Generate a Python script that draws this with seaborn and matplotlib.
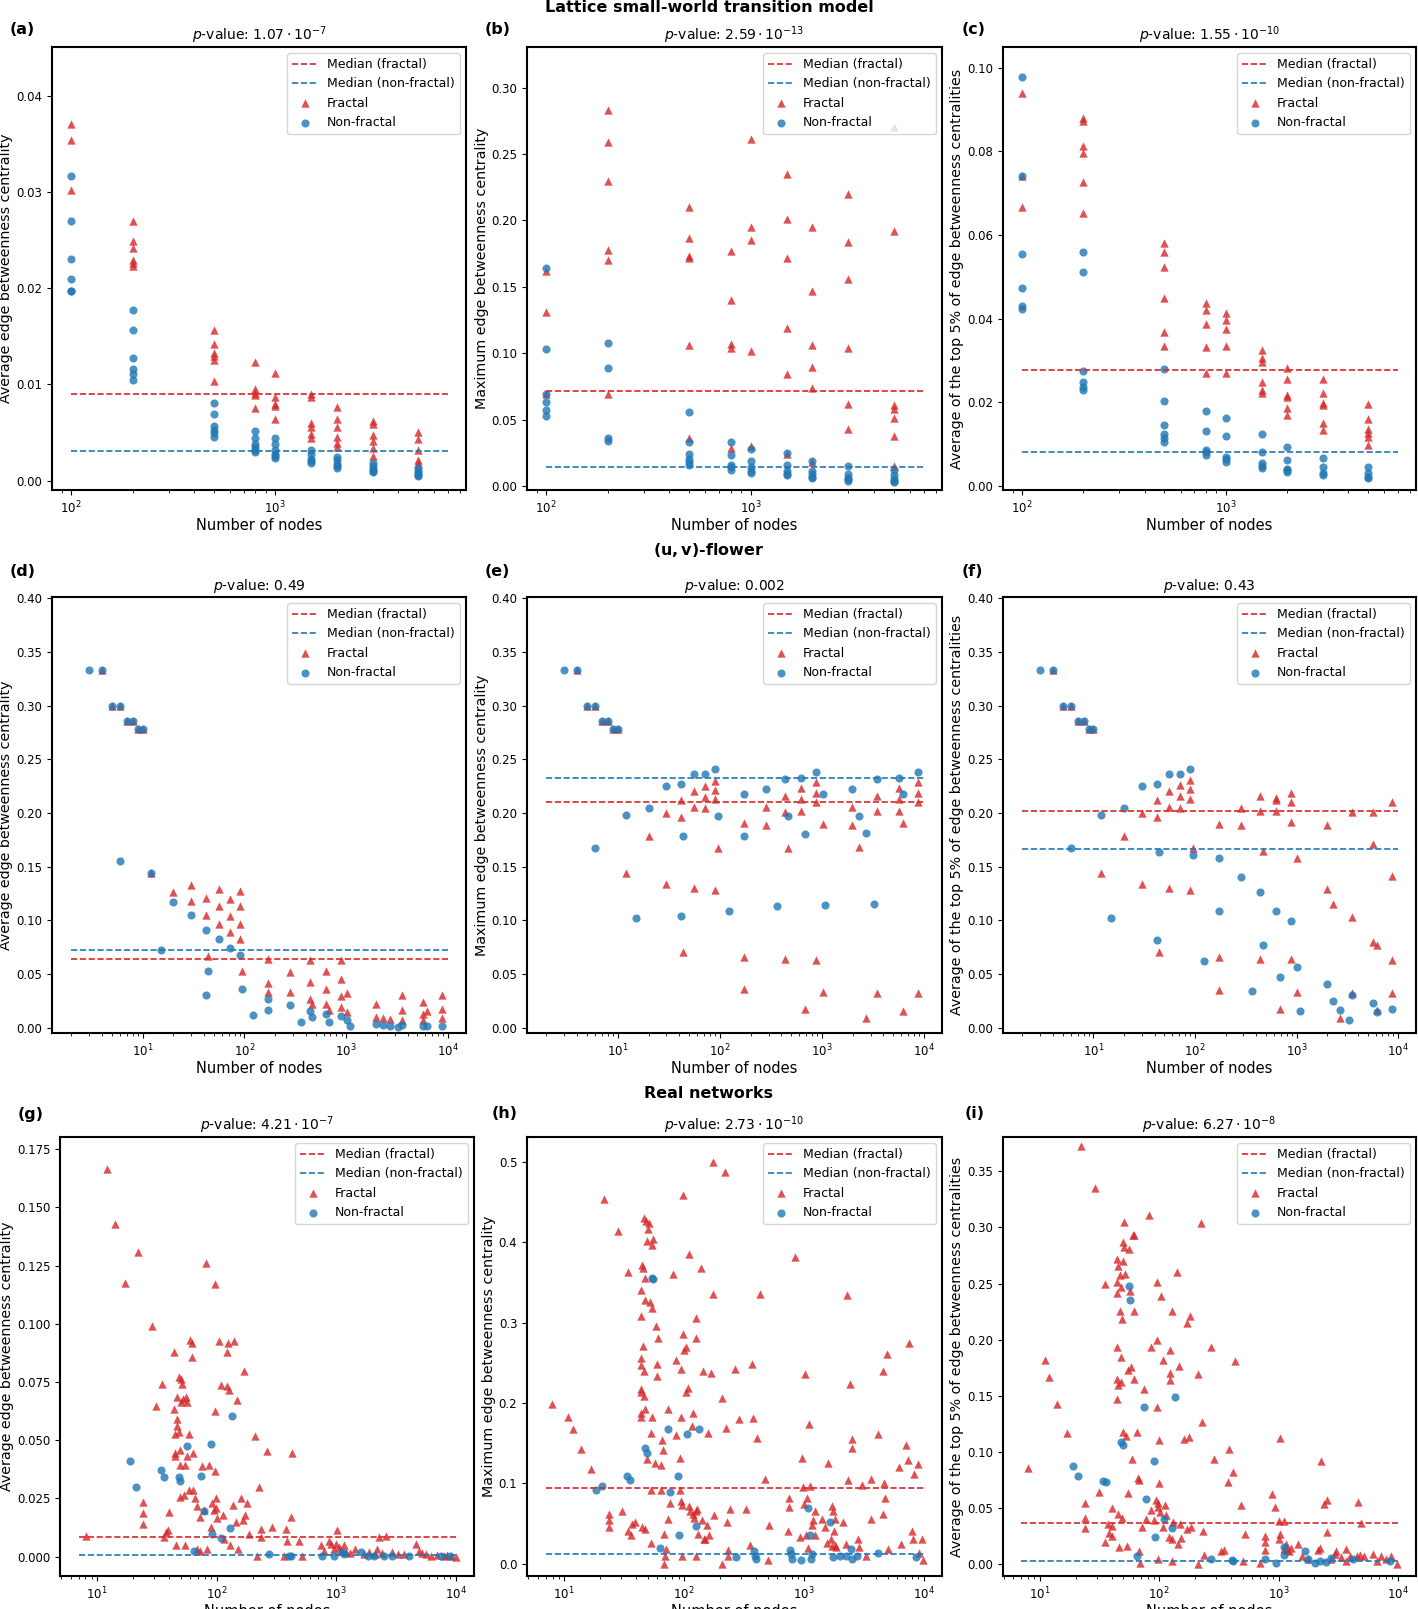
import numpy as np
import pandas as pd
import seaborn as sns
import matplotlib.pyplot as plt

RED = '#d62728'
BLUE = '#1f77b4'
W, H = 1418, 1609

# ---------------- Lattice small-world transition model ----------------
lattice_nodes = [100, 200, 500, 800, 1000, 1500, 2000, 3000, 5000]

a_frac = [[0.0370, 0.0354, 0.0302],
          [0.0270, 0.0249, 0.0242, 0.0229, 0.0226, 0.0223],
          [0.0157, 0.0142, 0.0133, 0.0129, 0.0125, 0.0104],
          [0.0123, 0.0095, 0.0091, 0.0089, 0.0075],
          [0.0112, 0.0087, 0.0080, 0.0078, 0.0064],
          [0.0090, 0.0087, 0.0060, 0.0056, 0.0048, 0.0044],
          [0.0077, 0.0064, 0.0056, 0.0045, 0.0039, 0.0035],
          [0.0062, 0.0059, 0.0047, 0.0041, 0.0034, 0.0026],
          [0.0051, 0.0043, 0.0032, 0.0021, 0.0018]]
a_nonfrac = [[0.0317, 0.0270, 0.0230, 0.0210, 0.0197, 0.0197],
             [0.0177, 0.0157, 0.0127, 0.0116, 0.0111, 0.0105],
             [0.0081, 0.0069, 0.0057, 0.0053, 0.0049, 0.0045],
             [0.0052, 0.0044, 0.0038, 0.0035, 0.0032, 0.0030],
             [0.0044, 0.0038, 0.0032, 0.0028, 0.0026, 0.0024],
             [0.0032, 0.0028, 0.0023, 0.0020, 0.0018],
             [0.0025, 0.0021, 0.0017, 0.0015, 0.0013],
             [0.0018, 0.0015, 0.0012, 0.0010, 0.0009],
             [0.0013, 0.0010, 0.0008, 0.0006, 0.0005]]

b_frac = [[0.162, 0.131, 0.069],
          [0.283, 0.259, 0.230, 0.178, 0.170, 0.069],
          [0.210, 0.187, 0.173, 0.172, 0.106, 0.036],
          [0.177, 0.140, 0.107, 0.104, 0.029],
          [0.261, 0.195, 0.185, 0.102, 0.030],
          [0.235, 0.201, 0.172, 0.119, 0.084, 0.024],
          [0.195, 0.147, 0.106, 0.090, 0.074, 0.018],
          [0.220, 0.184, 0.156, 0.104, 0.062, 0.043],
          [0.270, 0.192, 0.061, 0.058, 0.051, 0.038, 0.015]]
b_nonfrac = [[0.164, 0.103, 0.069, 0.063, 0.057, 0.053],
             [0.108, 0.089, 0.036, 0.034],
             [0.056, 0.033, 0.024, 0.020, 0.018, 0.016],
             [0.033, 0.023, 0.016, 0.014, 0.012],
             [0.028, 0.019, 0.014, 0.011, 0.010],
             [0.025, 0.016, 0.011, 0.009, 0.008],
             [0.019, 0.011, 0.009, 0.007, 0.006],
             [0.015, 0.009, 0.006, 0.005, 0.004],
             [0.012, 0.008, 0.005, 0.004, 0.003]]

c_frac = [[0.0941, 0.0742, 0.0668],
          [0.0879, 0.0873, 0.0813, 0.0797, 0.0727, 0.0652],
          [0.0582, 0.0559, 0.0524, 0.0449, 0.0367, 0.0335],
          [0.0437, 0.0421, 0.0387, 0.0333, 0.0269],
          [0.0413, 0.0397, 0.0375, 0.0335, 0.0271],
          [0.0324, 0.0305, 0.0297, 0.0249, 0.0229, 0.0223],
          [0.0281, 0.0255, 0.0218, 0.0212, 0.0186, 0.0170],
          [0.0256, 0.0223, 0.0198, 0.0194, 0.0150, 0.0134],
          [0.0195, 0.0159, 0.0135, 0.0126, 0.0116, 0.0098]]
c_nonfrac = [[0.0979, 0.0742, 0.0555, 0.0473, 0.0431, 0.0423],
             [0.0560, 0.0512, 0.0274, 0.0249, 0.0237, 0.0229],
             [0.0279, 0.0204, 0.0145, 0.0124, 0.0114, 0.0106],
             [0.0180, 0.0131, 0.0086, 0.0080, 0.0074],
             [0.0163, 0.0120, 0.0070, 0.0064, 0.0058],
             [0.0124, 0.0082, 0.0054, 0.0048, 0.0042],
             [0.0092, 0.0061, 0.0040, 0.0037, 0.0033],
             [0.0067, 0.0044, 0.0030, 0.0026],
             [0.0046, 0.0030, 0.0021, 0.0018]]

# ---------------- (u, v)-flower ----------------
d_frac = [(4, 0.333), (5, 0.300), (6, 0.300), (7, 0.286), (8, 0.286), (9, 0.278), (10, 0.278),
          (12, 0.144), (20, 0.126), (30, 0.133), (30, 0.118), (42, 0.121), (42, 0.105), (44, 0.067),
          (56, 0.129), (56, 0.113), (56, 0.097), (72, 0.120), (72, 0.104), (72, 0.089),
          (90, 0.127), (90, 0.113), (90, 0.097), (90, 0.083), (95, 0.053),
          (172, 0.064), (172, 0.042), (172, 0.033), (282, 0.052), (282, 0.033),
          (436, 0.063), (436, 0.043), (436, 0.027), (466, 0.022), (630, 0.053), (630, 0.036),
          (630, 0.022), (680, 0.017), (880, 0.063), (880, 0.045), (880, 0.030), (880, 0.019),
          (1016, 0.032), (1016, 0.015), (1980, 0.022), (1980, 0.010), (2300, 0.009), (2700, 0.008),
          (3500, 0.031), (3500, 0.017), (3500, 0.007), (5700, 0.024), (5700, 0.013), (5700, 0.007),
          (6200, 0.016), (8800, 0.031), (8800, 0.018), (8800, 0.009)]
d_nonfrac = [(3, 0.333), (4, 0.333), (5, 0.300), (6, 0.300), (7, 0.286), (8, 0.286), (9, 0.278),
             (10, 0.278), (6, 0.155), (12, 0.144), (15, 0.072), (20, 0.117), (30, 0.105),
             (42, 0.091), (42, 0.031), (44, 0.053), (56, 0.083), (72, 0.074), (90, 0.068),
             (95, 0.036), (122, 0.012), (172, 0.027), (172, 0.017), (282, 0.021), (362, 0.005),
             (436, 0.016), (466, 0.010), (630, 0.013), (680, 0.005), (880, 0.011), (1016, 0.007),
             (1080, 0.002), (1980, 0.004), (2300, 0.003), (2700, 0.002), (3260, 0.001),
             (3500, 0.003), (5700, 0.002), (6200, 0.002), (8800, 0.002)]

e_frac = [(4, 0.333), (5, 0.300), (6, 0.300), (7, 0.286), (8, 0.286), (9, 0.278), (10, 0.278),
          (12, 0.144), (20, 0.179), (30, 0.200), (30, 0.134), (42, 0.212), (42, 0.196), (44, 0.071),
          (56, 0.220), (56, 0.206), (56, 0.130), (72, 0.225), (72, 0.215), (72, 0.205),
          (90, 0.230), (90, 0.221), (90, 0.213), (90, 0.128), (95, 0.167),
          (172, 0.191), (172, 0.066), (172, 0.036), (282, 0.206), (282, 0.189),
          (436, 0.216), (436, 0.201), (436, 0.064), (466, 0.167), (630, 0.223), (630, 0.213),
          (630, 0.202), (680, 0.018), (880, 0.229), (880, 0.219), (880, 0.210), (880, 0.063),
          (1016, 0.190), (1016, 0.033), (1980, 0.206), (1980, 0.189), (2300, 0.168), (2700, 0.009),
          (3500, 0.216), (3500, 0.202), (3500, 0.032), (5700, 0.223), (5700, 0.213), (5700, 0.202),
          (6200, 0.191), (6200, 0.016), (8800, 0.229), (8800, 0.219), (8800, 0.210), (8800, 0.032)]
e_nonfrac = [(3, 0.333), (4, 0.333), (5, 0.300), (6, 0.300), (7, 0.286), (8, 0.286), (9, 0.278),
             (10, 0.278), (6, 0.167), (12, 0.198), (15, 0.102), (20, 0.205), (30, 0.225),
             (42, 0.227), (44, 0.179), (42, 0.104), (56, 0.236), (72, 0.236), (90, 0.241),
             (95, 0.197), (122, 0.109), (172, 0.218), (172, 0.179), (282, 0.222), (362, 0.113),
             (436, 0.232), (466, 0.197), (630, 0.233), (680, 0.180), (880, 0.238), (1016, 0.218),
             (1080, 0.114), (1980, 0.222), (2300, 0.197), (2700, 0.181), (3260, 0.115),
             (3500, 0.232), (5700, 0.233), (6200, 0.218), (8800, 0.238)]

f_frac = [(4, 0.333), (5, 0.300), (6, 0.300), (7, 0.286), (8, 0.286), (9, 0.278), (10, 0.278),
          (12, 0.144), (20, 0.179), (30, 0.200), (30, 0.134), (42, 0.212), (42, 0.196), (44, 0.071),
          (56, 0.220), (56, 0.206), (56, 0.130), (72, 0.226), (72, 0.216), (72, 0.205),
          (90, 0.231), (90, 0.222), (90, 0.213), (90, 0.128), (95, 0.167),
          (172, 0.190), (172, 0.066), (172, 0.035), (282, 0.205), (282, 0.189),
          (436, 0.216), (436, 0.202), (436, 0.064), (466, 0.165), (630, 0.214), (630, 0.212),
          (630, 0.202), (680, 0.018), (880, 0.219), (880, 0.210), (880, 0.192), (880, 0.064),
          (1016, 0.158), (1016, 0.033), (1980, 0.189), (1980, 0.129), (2300, 0.115), (2700, 0.009),
          (3500, 0.201), (3500, 0.103), (3500, 0.032), (5700, 0.201), (5700, 0.171), (5700, 0.080),
          (6200, 0.077), (6200, 0.017), (8800, 0.210), (8800, 0.141), (8800, 0.063), (8800, 0.032)]
f_nonfrac = [(3, 0.333), (4, 0.333), (5, 0.300), (6, 0.300), (7, 0.286), (8, 0.286), (9, 0.278),
             (10, 0.278), (6, 0.167), (12, 0.198), (15, 0.102), (20, 0.205), (30, 0.225),
             (42, 0.227), (44, 0.164), (42, 0.082), (56, 0.236), (72, 0.236), (90, 0.241),
             (95, 0.161), (122, 0.062), (172, 0.158), (172, 0.109), (282, 0.140), (362, 0.034),
             (436, 0.126), (466, 0.077), (630, 0.109), (680, 0.047), (880, 0.099), (1016, 0.057),
             (1080, 0.016), (1980, 0.041), (2300, 0.025), (2700, 0.017), (3260, 0.007),
             (3500, 0.031), (5700, 0.023), (6200, 0.015), (8800, 0.018)]

# ---------------- Real networks ----------------
g_frac = [(8.1, 0.0088), (12, 0.1666), (14, 0.1427), (17, 0.1175), (22, 0.131), (24, 0.0233),
          (24, 0.0188), (24, 0.0142), (29, 0.0989), (31, 0.0646), (35, 0.0743), (36, 0.0084),
          (38, 0.0106), (39, 0.0113), (40, 0.0191), (44, 0.088), (44, 0.0634), (45, 0.0525),
          (45, 0.0446), (45, 0.0431), (46, 0.0048), (47, 0.0685), (47, 0.059), (47, 0.0562),
          (48, 0.077), (48, 0.0537), (49, 0.0456), (49, 0.0395), (49, 0.0258), (50, 0.0764),
          (50, 0.0663), (51, 0.0743), (52, 0.0678), (53, 0.0265), (54, 0.0048), (54, 0.0395),
          (55, 0.0685), (56, 0.0663), (57, 0.0431), (59, 0.0525), (59, 0.0287), (60, 0.0931),
          (62, 0.0916), (62, 0.0858), (64, 0.0446), (64, 0.0287), (66, 0.025), (68, 0.0219),
          (69, 0.0033), (72, 0.0026), (73, 0.0171), (76, 0.0388), (78, 0.02), (82, 0.126),
          (83, 0.0033), (86, 0.0395), (89, 0.0127), (92, 0.0229), (95, 0.02), (96, 0.0627),
          (96, 0.1172), (96, 0.0366), (98, 0.025), (99, 0.0207), (101, 0.0164), (104, 0.0926),
          (108, 0.0735), (112, 0.0178), (115, 0.0077), (121, 0.0731), (123, 0.088), (124, 0.0918),
          (127, 0.0717), (130, 0.0048), (138, 0.0222), (141, 0.0926), (144, 0.0149), (148, 0.0673),
          (150, 0.0033), (160, 0.0253), (166, 0.0156), (169, 0.0797), (174, 0.0178), (180, 0.0229),
          (186, 0.0098), (209, 0.0518), (216, 0.0004), (226, 0.0301), (233, 0.012), (237, 0.0084),
          (264, 0.0453), (292, 0.0127), (366, 0.0004), (377, 0.0117), (385, 0.0069), (416, 0.0171),
          (428, 0.0446), (488, 0.0069), (513, 0.0004), (753, 0.0051), (786, 0.0026), (867, 0.0069),
          (900, 0.0055), (960, 0.0035), (992, 0.0055), (1016, 0.0113), (1050, 0.0040),
          (1100, 0.0030), (1156, 0.0048), (1200, 0.0020), (1300, 0.0015), (1447, 0.0033),
          (1702, 0.0012), (1874, 0.0019), (2100, 0.0010), (2199, 0.0033), (2270, 0.0084),
          (2400, 0.0015), (2585, 0.0088), (2940, 0.0019), (3300, 0.0012), (3690, 0.0012),
          (4640, 0.0055), (4900, 0.0026), (5200, 0.0015), (5600, 0.0010), (6200, 0.0004),
          (7000, 0.0007), (7950, 0.0004), (8500, 0.0008), (9050, 0.0004), (10000, 0.0)]
g_nonfrac = [(19, 0.041), (21, 0.0298), (34.4, 0.0371), (36.1, 0.0344), (48.2, 0.034),
             (49.8, 0.0327), (56.7, 0.0475), (64.5, 0.0026), (74.3, 0.0347), (78.2, 0.0197),
             (90, 0.0482), (91.8, 0.0098), (107.8, 0.0081), (129, 0.0124), (135, 0.0605),
             (274, 0.0012), (403, 0.0004), (416, 0.0004), (765, 0.0004), (958, 0.0001),
             (1120, 0.0022), (1160, 0.0012), (1600, 0.0022), (1830, 0.0004), (2080, 0.0004),
             (2520, 0.0004), (2940, 0.0004), (4030, 0.0004), (7500, 0.0004), (9000, 0.0004)]

h_frac = [(7.9, 0.198), (10.7, 0.182), (11.8, 0.167), (13.8, 0.143), (16.6, 0.118), (21.5, 0.454),
          (23.6, 0.062), (23.6, 0.054), (23.6, 0.045), (28.4, 0.414), (30.5, 0.065), (34.3, 0.363),
          (34.3, 0.040), (36.3, 0.036), (37, 0.049), (38.7, 0.052), (43.8, 0.308), (44, 0.341),
          (43.8, 0.256), (43.8, 0.247), (43.5, 0.217), (43.5, 0.213), (43.8, 0.188), (43.8, 0.182),
          (44.3, 0.045), (44.9, 0.372), (45.5, 0.368), (45.8, 0.271), (46.1, 0.240), (46.4, 0.209),
          (46.7, 0.430), (47, 0.355), (47, 0.328), (47.3, 0.193), (47.6, 0.043), (48.3, 0.426),
          (48.9, 0.402), (48.9, 0.130), (50, 0.416), (51, 0.424), (52.5, 0.326), (53, 0.091),
          (53, 0.025), (53.8, 0.396), (54, 0.182), (54, 0.318), (55.3, 0.404), (53, 0.163),
          (57.4, 0.125), (58, 0.296), (59, 0.234), (60, 0.248), (60.8, 0.281), (64, 0.123),
          (64, 0.091), (65.5, 0.154), (67, 0.141), (68.7, 0.037), (68, 0.0), (70, 0.010),
          (70.4, 0.018), (73, 0.193), (73, 0.055), (77, 0.075), (81.7, 0.360), (85, 0.254),
          (86, 0.160), (93, 0.131), (93, 0.091), (94, 0.242), (94, 0.182), (95, 0.078), (96, 0.010),
          (97, 0.073), (99, 0.459), (99, 0.286), (100, 0.266), (103, 0.270), (104, 0.213),
          (107, 0.219), (111, 0.385), (111, 0.072), (113, 0.066), (117, 0.171), (118, 0.062),
          (119, 0.187), (121, 0.057), (126, 0.066), (126, 0.009), (127, 0.281), (127, 0.306),
          (129, 0.068), (131, 0.037), (139, 0.368), (141, 0.054), (144, 0.240), (146, 0.030),
          (150, 0.031), (155, 0.048), (158, 0.162), (163, 0.035), (167, 0.237), (176, 0.336),
          (179, 0.060), (176, 0.500), (207, 0.206), (218, 0.488), (226, 0.169), (229, 0.052),
          (232, 0.017), (232, 0.009), (208, 0.000), (240, 0.068), (264, 0.242), (287, 0.180),
          (326, 0.068), (354, 0.023), (372, 0.248), (378, 0.181), (407, 0.156), (428, 0.336),
          (473, 0.105), (510, 0.048), (505, 0.005), (740, 0.041), (755, 0.081), (755, 0.071),
          (844, 0.382), (935, 0.033), (960, 0.131), (980, 0.095), (1007, 0.074), (1016, 0.236),
          (1033, 0.036), (1068, 0.081), (1090, 0.019), (1112, 0.174), (1125, 0.096), (1160, 0.048),
          (1195, 0.054), (1232, 0.066), (1232, 0.035), (1410, 0.056), (1500, 0.045), (1575, 0.125),
          (1550, 0.026), (1685, 0.031), (1713, 0.022), (1730, 0.072), (1750, 0.066), (1800, 0.041),
          (1810, 0.056), (1835, 0.023), (1870, 0.020), (2110, 0.052), (2230, 0.024), (2285, 0.334),
          (2320, 0.104), (2415, 0.224), (2530, 0.155), (2530, 0.144), (2810, 0.031), (2875, 0.020),
          (3040, 0.098), (3270, 0.010), (3630, 0.056), (3650, 0.105), (4120, 0.161), (4550, 0.240),
          (4550, 0.062), (4620, 0.100), (4730, 0.081), (4950, 0.261), (5020, 0.018), (6220, 0.120),
          (6420, 0.024), (7100, 0.148), (7340, 0.129), (7590, 0.275), (7950, 0.041), (8100, 0.030),
          (8360, 0.112), (8900, 0.124), (9200, 0.013), (9650, 0.031), (9850, 0.005)]
h_nonfrac = [(18.5, 0.091), (20.5, 0.096), (33.4, 0.109), (35.2, 0.104), (47, 0.144), (48.9, 0.138),
             (54.5, 0.355), (55.6, 0.354), (63.6, 0.019), (72.9, 0.168), (76.2, 0.089), (88.5, 0.109),
             (90, 0.036), (105, 0.161), (126, 0.047), (133, 0.168), (273, 0.008), (386, 0.016),
             (392, 0.010), (400, 0.006), (765, 0.017), (776, 0.012), (790, 0.006), (950, 0.005),
             (1075, 0.069), (1125, 0.035), (1145, 0.006), (1160, 0.012), (1640, 0.052), (1750, 0.008),
             (2020, 0.010), (2230, 0.010), (2490, 0.018), (2530, 0.006), (2780, 0.010), (4170, 0.013),
             (8620, 0.008)]

i_frac = [(8.0, 0.0856), (11, 0.1818), (12, 0.1667), (14, 0.1427), (17, 0.1172), (22, 0.3722),
          (23.8, 0.0541), (23.8, 0.0415), (24, 0.0321), (29, 0.3356), (31, 0.0646), (35, 0.2494),
          (35, 0.0201), (37, 0.0361), (38, 0.0279), (40, 0.0502), (40, 0.0249), (40.5, 0.0339),
          (44, 0.1938), (44, 0.1472), (44, 0.2515), (44, 0.2418), (44.5, 0.2719), (44.5, 0.1652),
          (45, 0.0445), (45.5, 0.2659), (45.5, 0.1598), (46, 0.0150), (47, 0.2253), (47, 0.2575),
          (47.5, 0.1622), (48, 0.1842), (48, 0.2473), (48.5, 0.0415), (49, 0.2185), (49.5, 0.2869),
          (50, 0.1181), (50, 0.2704), (50.5, 0.2830), (51, 0.3049), (52, 0.2584), (53, 0.1142),
          (54, 0.0165), (55, 0.0631), (55, 0.1733), (56, 0.2809), (57, 0.2433), (58, 0.1757),
          (59, 0.0937), (60, 0.2929), (62, 0.2253), (61.5, 0.1646), (62, 0.2935), (65, 0.1181),
          (66, 0.0766), (67, 0.0751), (68, 0.0120), (69, 0.0015), (71, 0.0330), (75, 0.1562),
          (77, 0.0406), (82, 0.3109), (86, 0.0481), (86, 0.1938), (90, 0.0391), (94, 0.0571),
          (95, 0.1998), (96, 0.1397), (96, 0.2515), (97, 0.0541), (98, 0.0511), (100, 0.0727),
          (100, 0.1103), (98, 0.0045), (102, 0.0466), (104, 0.2388), (108, 0.1818), (111, 0.0526),
          (115, 0.0436), (108, 0.0330), (120, 0.0240), (122, 0.1703), (123, 0.1643), (124, 0.1908),
          (128, 0.2253), (128, 0.0225), (129, 0.0030), (131, 0.0375), (140, 0.2605), (144, 0.0180),
          (147, 0.1763), (149, 0.0361), (151, 0.0231), (161, 0.1118), (172, 0.0315), (172, 0.2148),
          (178, 0.1133), (181, 0.2214), (185, 0.0330), (210, 0.0000), (210, 0.1697), (223, 0.3040),
          (230, 0.1268), (233, 0.0300), (236, 0.0081), (270, 0.1938), (290, 0.0940), (330, 0.0120),
          (350, 0.0126), (380, 0.0730), (385, 0.1027), (415, 0.0820), (430, 0.1808), (480, 0.0526),
          (520, 0.0270), (505, 0.0030), (700, 0.0015), (770, 0.0255), (770, 0.0201), (770, 0.0126),
          (880, 0.0622), (940, 0.0511), (1000, 0.0225), (1010, 0.0382), (1030, 0.1127),
          (1030, 0.0270), (1115, 0.0382), (1115, 0.0135), (1150, 0.0180), (1175, 0.0129),
          (1230, 0.0120), (1260, 0.0141), (1455, 0.0180), (1560, 0.0075), (1750, 0.0045),
          (2140, 0.0129), (2210, 0.0141), (2280, 0.0916), (2420, 0.0532), (2560, 0.0571),
          (2560, 0.0285), (2760, 0.0045), (2960, 0.0090), (3050, 0.0120), (3350, 0.0060),
          (3700, 0.0135), (3700, 0.0030), (3980, 0.0075), (4520, 0.0075), (4650, 0.0550),
          (4800, 0.0081), (4940, 0.0367), (5170, 0.0069), (6210, 0.0090), (6710, 0.0030),
          (7260, 0.0075), (8010, 0.0045), (8830, 0.0075), (9880, 0.0006)]
i_nonfrac = [(19, 0.0871), (21, 0.0787), (34, 0.0742), (36, 0.0730), (48, 0.1088), (50, 0.1061),
             (56, 0.2479), (57, 0.2358), (65, 0.0075), (74, 0.1403), (78, 0.0577), (90, 0.0922),
             (92, 0.0240), (109, 0.0400), (128, 0.0321), (135, 0.1487), (274, 0.0045), (405, 0.0036),
             (415, 0.0030), (765, 0.0045), (960, 0.0015), (1110, 0.0150), (1115, 0.0081),
             (1660, 0.0120), (1770, 0.0045), (2010, 0.0015), (2210, 0.0030), (2510, 0.0021),
             (2760, 0.0051), (4180, 0.0045), (8530, 0.0030)]

# medians (fractal, non-fractal) and p-value titles
medians = {'a': (0.0090, 0.0031), 'b': (0.0714, 0.0145), 'c': (0.0276, 0.0080),
           'd': (0.0637, 0.0724), 'e': (0.2101, 0.2322), 'f': (0.2014, 0.1669),
           'g': (0.0084, 0.0007), 'h': (0.0935, 0.0122), 'i': (0.0370, 0.0033)}
pvalues = {'a': r'$p$-value: $1.07 \cdot 10^{-7}$', 'b': r'$p$-value: $2.59 \cdot 10^{-13}$',
           'c': r'$p$-value: $1.55 \cdot 10^{-10}$', 'd': r'$p$-value: 0.49',
           'e': r'$p$-value: 0.002', 'f': r'$p$-value: 0.43',
           'g': r'$p$-value: $4.21 \cdot 10^{-7}$', 'h': r'$p$-value: $2.73 \cdot 10^{-10}$',
           'i': r'$p$-value: $6.27 \cdot 10^{-8}$'}
ylabels = ['Average edge betweenness centrality',
           'Maximum edge betweenness centrality',
           'Average of the top 5% of edge betweenness centralities']


def pairs_frame(pairs):
    arr = np.array(pairs, dtype=float)
    return pd.DataFrame({'nodes': arr[:, 0], 'value': arr[:, 1]})


def lattice_frame(groups):
    rows = [(n, v) for n, vals in zip(lattice_nodes, groups) for v in vals]
    return pairs_frame(rows)


def px_rect(l, t, r, b):
    return [l / W, 1 - b / H, (r - l) / W, (b - t) / H]


def draw_panel(ax, key, frac, nonfrac, span, xlim, ylim, ylabel):
    mf, mn = medians[key]
    ax.plot(span, [mf, mf], '--', color=RED, lw=1.2, label='Median (fractal)')
    ax.plot(span, [mn, mn], '--', color=BLUE, lw=1.2, label='Median (non-fractal)')
    sns.scatterplot(data=frac, x='nodes', y='value', marker='^', color=RED, alpha=0.8,
                    s=36, linewidth=0, label='Fractal', ax=ax)
    sns.scatterplot(data=nonfrac, x='nodes', y='value', marker='o', color=BLUE, alpha=0.8,
                    s=34, linewidth=0, label='Non-fractal', ax=ax)
    ax.set_xscale('log')
    ax.set_xlim(*xlim)
    ax.set_ylim(*ylim)
    ax.set_xlabel('Number of nodes', fontsize=10.5, labelpad=1)
    ax.set_ylabel(ylabel, fontsize=10.3, labelpad=2)
    ax.set_title(pvalues[key], fontsize=10, pad=5)
    ax.tick_params(labelsize=8.5)
    for sp in ax.spines.values():
        sp.set_linewidth(1.5)
    ax.legend(loc='upper right', fontsize=9)


fig = plt.figure(figsize=(W / 100, H / 100), dpi=100)

col_px = [(52, 466), (527, 942), (1003, 1416)]
row_px = [(47, 490), (597, 1033), (1137, 1576)]

lattice_span = (100, 7000)
flower_span = (2, 10000)
real_span = (7, 10000)

panels = [
    ('a', lattice_frame(a_frac), lattice_frame(a_nonfrac), lattice_span, (80.6, 8600), (-0.00097, 0.04505)),
    ('b', lattice_frame(b_frac), lattice_frame(b_nonfrac), lattice_span, (80.6, 8600), (-0.003, 0.3306)),
    ('c', lattice_frame(c_frac), lattice_frame(c_nonfrac), lattice_span, (80.6, 8600), (-0.001, 0.105)),
    ('d', pairs_frame(d_frac), pairs_frame(d_nonfrac), flower_span, (1.29, 15000), (-0.0048, 0.401)),
    ('e', pairs_frame(e_frac), pairs_frame(e_nonfrac), flower_span, (1.29, 15000), (-0.0048, 0.401)),
    ('f', pairs_frame(f_frac), pairs_frame(f_nonfrac), flower_span, (1.29, 15000), (-0.0048, 0.401)),
    ('g', pairs_frame(g_frac), pairs_frame(g_nonfrac), real_span, (4.9, 14200), (-0.0083, 0.1802)),
    ('h', pairs_frame(h_frac), pairs_frame(h_nonfrac), real_span, (4.9, 14200), (-0.0155, 0.531)),
    ('i', pairs_frame(i_frac), pairs_frame(i_nonfrac), real_span, (4.9, 14200), (-0.0105, 0.3806)),
]

label_pos = {'a': (10, 30), 'b': (485, 30), 'c': (962, 30),
             'd': (10, 572), 'e': (485, 572), 'f': (962, 572),
             'g': (18, 1114), 'h': (492, 1114), 'i': (965, 1114)}

for idx, (key, frac, nonfrac, span, xlim, ylim) in enumerate(panels):
    r, c = divmod(idx, 3)
    l, rr = col_px[c]
    t, b = row_px[r]
    if key == 'g':
        l, rr = 60, 474
    ax = fig.add_axes(px_rect(l, t, rr, b))
    draw_panel(ax, key, frac, nonfrac, span, xlim, ylim, ylabels[c])
    lx, ly = label_pos[key]
    fig.text(lx / W, 1 - ly / H, f'({key})', fontsize=11.5, fontweight='bold', va='center', ha='left')

fig.text(709 / W, 1 - 8 / H, 'Lattice small-world transition model', fontsize=11.5,
         fontweight='bold', ha='center', va='center')
fig.text(709 / W, 1 - 550 / H, r'$\mathbf{(u, v)}$-flower', fontsize=11.5,
         fontweight='bold', ha='center', va='center')
fig.text(709 / W, 1 - 1093 / H, 'Real networks', fontsize=11.5,
         fontweight='bold', ha='center', va='center')

fig.savefig('out.png', dpi=100)
